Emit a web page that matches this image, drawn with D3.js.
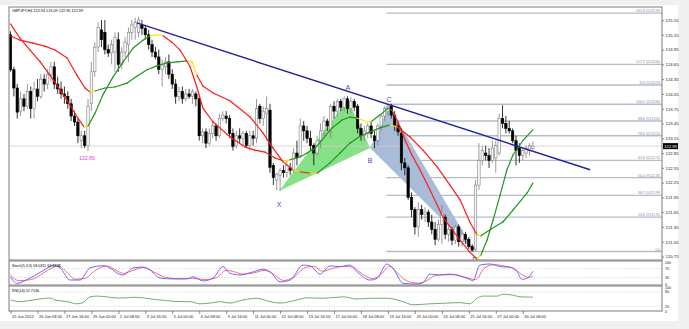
<!DOCTYPE html>
<html><head><meta charset="utf-8">
<script src="https://cdn.jsdelivr.net/npm/d3@7"></script>
<style>html,body{margin:0;padding:0;background:#f0f0f0;overflow:hidden}svg{display:block;font-family:"Liberation Sans",Arial,sans-serif}</style>
</head><body><div id="chart"></div>
<script>
// ---------- DATA ----------
const symbolTitle = "GBPJPY,H4 122.94 123.09 122.90 122.99";
const stochTitle = "Stoch(5,3,3) 58.0311 64.6738";
const rsiTitle = "RSI(14) 57.7136";
const opens = [125.25,124.54,124.17,123.70,123.95,123.80,124.10,123.75,124.15,124.00,124.35,124.25,124.45,124.60,124.25,124.15,124.05,124.00,123.85,123.60,
123.48,123.10,123.20,123.00,123.85,124.50,125.00,125.35,125.30,124.95,124.88,124.90,125.15,124.65,124.90,125.05,125.30,125.40,125.30,125.45,
125.38,125.25,125.05,124.90,124.80,124.55,124.60,124.70,124.45,124.25,124.00,124.10,123.95,124.05,124.00,124.05,123.95,123.20,123.28,123.05,
123.25,123.40,123.20,123.55,123.60,123.55,123.25,123.00,123.20,123.15,123.25,123.00,123.20,123.15,123.80,123.55,123.65,123.72,122.60,122.30,
122.40,122.50,122.45,122.55,122.50,122.85,122.80,123.40,123.30,123.15,123.00,122.85,123.10,123.30,123.50,123.30,123.80,123.70,123.90,123.78,
123.95,123.75,123.90,123.80,123.35,123.20,123.25,123.40,123.20,123.10,123.40,123.60,123.70,123.80,123.62,123.40,123.25,122.65,122.55,121.95,
121.70,121.35,121.70,121.60,121.65,121.45,121.30,121.10,121.40,121.55,121.20,121.30,121.08,121.35,121.05,121.20,121.10,120.95,120.90,122.20,
122.70,122.85,122.80,122.70,122.75,122.85,123.55,123.45,123.35,123.30,123.10,122.95,122.80,122.85,122.90,122.94];
const highs = [125.32,124.60,124.25,124.10,124.05,124.25,124.20,124.30,124.35,124.45,124.45,124.55,124.70,124.70,124.40,124.30,124.20,124.10,123.95,123.70,
123.55,123.30,123.30,123.95,124.70,125.10,125.50,125.55,125.55,125.05,125.15,125.30,125.30,125.00,125.20,125.40,125.55,125.60,125.62,125.55,
125.45,125.35,125.15,125.00,124.95,124.75,124.80,124.85,124.55,124.35,124.20,124.20,124.15,124.15,124.15,124.10,124.00,123.35,123.35,123.35,
123.50,123.45,123.65,123.70,123.70,123.62,123.35,123.30,123.35,123.30,123.30,123.30,123.30,123.95,123.85,123.80,124.00,123.85,122.65,122.45,
122.55,122.60,122.70,122.65,122.95,123.10,123.55,123.50,123.40,123.30,123.05,123.20,123.45,123.60,123.55,123.85,123.90,123.95,123.95,124.00,
124.00,123.98,123.95,123.85,123.45,123.40,123.45,123.50,123.30,123.45,123.65,123.80,123.84,123.85,123.70,123.48,123.35,122.75,122.60,122.05,
121.75,121.85,121.80,121.75,121.70,121.60,121.45,121.50,121.80,121.60,121.40,121.35,121.40,121.40,121.30,121.25,121.15,121.00,122.30,123.05,
123.00,123.00,122.95,123.10,123.10,123.65,123.82,123.60,123.50,123.35,123.20,123.05,122.95,123.00,123.05,123.09];
const lows = [124.50,124.00,123.55,123.60,123.70,123.75,123.55,123.55,123.90,123.95,124.10,124.15,124.30,124.15,124.05,123.95,123.85,123.75,123.50,123.40,
123.05,122.95,122.95,122.89,123.70,124.40,124.90,125.00,124.85,124.80,124.65,124.50,124.50,124.55,124.80,124.70,125.15,125.15,125.20,125.25,
125.15,124.95,124.80,124.75,124.45,124.20,124.45,124.35,124.15,123.85,123.90,123.85,123.90,123.95,123.85,123.80,123.10,123.05,122.95,123.00,
123.15,123.10,123.15,123.50,123.45,123.15,122.90,122.95,123.05,123.00,122.95,122.90,123.00,123.05,123.45,123.40,123.10,122.45,122.20,122.10,
122.08,122.35,122.35,122.40,122.45,122.60,122.75,123.10,123.05,122.90,122.60,122.80,122.95,123.20,123.30,123.15,123.55,123.60,123.70,123.70,
123.65,123.65,123.70,123.25,123.10,123.10,123.15,123.15,122.95,123.00,123.30,123.50,123.60,123.55,123.30,123.20,122.50,122.40,121.90,121.55,
121.20,121.15,121.50,121.45,121.35,121.20,120.98,121.05,121.00,121.10,121.05,120.98,121.00,120.95,120.95,121.00,120.90,120.85,120.85,122.10,
122.60,122.70,122.55,122.65,122.45,122.80,123.35,123.25,123.25,123.05,122.60,122.65,122.70,122.75,122.80,122.90];
const closes = [124.54,124.17,123.68,123.95,123.80,124.10,123.75,124.15,124.00,124.35,124.25,124.45,124.60,124.25,124.15,124.05,124.00,123.85,123.60,123.48,
123.20,123.20,123.00,123.80,124.50,125.00,125.40,125.15,124.95,124.88,125.05,125.20,124.65,124.90,125.10,125.30,125.45,125.50,125.55,125.38,
125.25,125.05,124.90,124.80,124.55,124.65,124.70,124.45,124.25,124.00,124.10,123.95,124.05,124.00,124.10,123.95,123.20,123.28,123.05,123.25,
123.40,123.20,123.55,123.62,123.55,123.25,122.98,123.20,123.15,123.25,123.00,123.20,123.15,123.75,123.55,123.70,123.75,122.56,122.35,122.42,
122.50,122.45,122.60,122.50,122.85,122.75,123.40,123.30,123.15,123.00,122.85,123.10,123.30,123.50,123.40,123.80,123.70,123.90,123.78,123.95,
123.75,123.90,123.78,123.35,123.20,123.30,123.40,123.25,123.10,123.40,123.60,123.75,123.80,123.62,123.40,123.28,122.65,122.55,121.95,121.70,
121.35,121.70,121.60,121.65,121.45,121.30,121.10,121.40,121.65,121.20,121.30,121.08,121.35,121.05,121.20,121.10,120.95,120.88,122.20,122.70,
122.90,122.80,122.70,122.95,123.00,123.55,123.45,123.35,123.30,123.10,122.90,122.80,122.90,122.95,123.00,122.99];

// moving averages: [bar, price, colour code r/y/g]
const fastMA = [[0,125.47,'r'],[2.8,125.18,'r'],[5.8,124.94,'r'],[8.8,124.70,'r'],[11.7,124.43,'r'],[14.7,124.13,'r'],[17.7,123.82,'r'],[20.0,123.56,'r'],[21.8,123.38,'y'],[23.0,123.40,'g'],[25.1,123.66,'g'],[27.4,124.03,'g'],[30.4,124.39,'g'],[33.4,124.70,'g'],[36.4,124.98,'g'],[39.3,125.14,'g'],[41.4,125.23,'y'],[43.5,125.25,'y'],[45.3,125.23,'r'],[47.9,125.10,'r'],[50.3,124.94,'r'],[53.3,124.60,'r'],[55.3,124.19,'r'],[57.1,123.76,'r'],[60.1,123.48,'r'],[62.8,123.32,'r'],[65.1,123.18,'r'],[69.6,122.97,'r'],[72.5,122.91,'r'],[75.5,122.87,'r'],[78.5,122.75,'r'],[81.0,122.69,'y'],[82.9,122.71,'g'],[85.9,122.77,'g'],[88.0,122.85,'g'],[90.4,122.95,'g'],[92.4,123.11,'g'],[95.4,123.36,'g'],[98.4,123.52,'g'],[100.7,123.58,'g'],[102.8,123.56,'y'],[105.8,123.48,'y'],[107.3,123.50,'g'],[109.6,123.62,'g'],[112.0,123.76,'g'],[113.2,123.72,'r'],[115.0,123.48,'r'],[117.1,123.11,'r'],[119.1,122.81,'r'],[121.5,122.51,'r'],[124.5,122.10,'r'],[128.3,121.55,'r'],[133.4,121.08,'r'],[136.3,120.84,'r'],[138.4,120.70,'y'],[139.6,120.78,'g'],[141.4,121.08,'g'],[143.2,121.49,'g'],[145.3,122.00,'g'],[147.3,122.51,'g'],[149.1,122.81,'g'],[152.1,123.11,'g'],[155.0,123.32,'g']];
const slowMA = [[0,125.23,'r'],[2.8,125.14,'r'],[6.7,125.08,'r'],[10.2,125.02,'r'],[13.2,124.94,'r'],[16.8,124.78,'r'],[19.7,124.43,'r'],[22.1,124.17,'r'],[23.6,124.09,'y'],[25.1,124.11,'g'],[28.0,124.17,'g'],[31.0,124.19,'g'],[34.6,124.27,'g'],[37.5,124.41,'g'],[40.5,124.54,'g'],[43.5,124.62,'g'],[46.4,124.68,'g'],[49.4,124.70,'g'],[52.4,124.72,'y'],[53.9,124.70,'y'],[55.3,124.43,'r'],[57.1,124.21,'r'],[60.1,124.07,'r'],[65.1,123.91,'r'],[71.1,123.58,'r'],[74.9,123.26,'r'],[77.9,122.95,'r'],[80.9,122.67,'r'],[83.8,122.51,'y'],[85.9,122.47,'r'],[88.9,122.44,'y'],[91.0,122.44,'g'],[94.8,122.65,'g'],[97.8,122.85,'g'],[100.7,123.05,'g'],[103.7,123.19,'g'],[106.7,123.28,'g'],[109.6,123.36,'g'],[112.6,123.42,'y'],[114.7,123.38,'r'],[118.5,123.18,'r'],[122.4,122.91,'r'],[126.6,122.57,'r'],[130.4,122.20,'r'],[133.4,121.90,'r'],[136.3,121.45,'r'],[138.4,121.19,'y'],[139.6,121.17,'g'],[142.6,121.31,'g'],[146.1,121.45,'g'],[149.1,121.69,'g'],[153.3,122.04,'g'],[155.0,122.24,'g']];

const stochMain = [[0,33],[1.9,3],[5.8,27],[11.7,79],[12.6,86],[14.7,73],[17.7,18],[20.6,18],[23.6,73],[27.4,83],[29.5,73],[31.6,50],[33.4,41],[36.4,73],[39.3,77],[41.4,64],[44.4,27],[48.2,23],[52.4,23],[54.2,33],[57.1,14],[60.1,27],[63.1,79],[65.1,49],[68.1,41],[71.1,51],[74.9,67],[77.0,56],[80.0,10],[83.0,18],[86.8,86],[88.9,82],[91.9,45],[94.8,82],[97.8,79],[100.7,86],[102.8,56],[106.7,18],[108.8,26],[111.7,91],[113.5,71],[116.5,3],[120.6,0],[122.4,6],[124.5,45],[127.4,41],[130.4,45],[133.4,36],[136.3,21],[137.2,14],[139.3,86],[142.3,91],[145.3,79],[148.2,76],[150.3,56],[151.8,21],[153.3,26],[155.0,58]];
const stochSignal = [[0,40],[2.5,15],[6,20],[12,70],[14,82],[17,50],[19,22],[22,25],[25,60],[28.5,82],[31,65],[33.5,48],[36,60],[39.5,75],[42.5,55],[46,30],[50,24],[54,26],[57.5,20],[61,28],[64,62],[66.5,55],[69,45],[72,50],[75.5,62],[78,45],[81,16],[84,30],[87.5,75],[90,80],[92.5,58],[95.5,70],[98.5,80],[101.5,78],[104,50],[107.5,24],[110,45],[112.5,82],[114.5,55],[117.5,15],[121,4],[123.5,15],[126,38],[129,42],[132,42],[135,30],[138,20],[140.5,70],[143.5,88],[146.5,82],[149.5,70],[152,40],[154,30],[155,36]];
const rsiLine = [[0,46],[2.8,39],[6.7,46],[11.7,54],[13.2,46],[16.8,39],[19.7,30],[21.5,35],[23.6,59],[25.7,62],[28.6,59],[31.6,54],[34.6,55],[36.4,57],[39.3,55],[42.3,49],[46.4,43],[50.3,39],[53.3,39],[56.2,30],[59.2,33],[62.2,39],[65.1,33],[69.0,46],[73.1,53],[77.0,39],[80.0,33],[85.0,46],[88.0,55],[92.7,53],[98.7,59],[102.8,50],[106.7,53],[111.7,53],[116.5,39],[119.4,26],[124.5,30],[129.5,33],[133.4,35],[136.3,30],[138.4,53],[140.2,62],[144.4,62],[146.1,70],[149.1,66],[151.2,59],[155.0,57.7]];

const yTicks = [125.55,125.25,124.95,124.65,124.35,124.05,123.75,123.45,123.15,122.85,122.55,122.25,121.95,121.65,121.35,121.05,120.75];
const xTickBars = [0,8,16,24,32,40,48,56,64,72,80,88,96,104,112,120,128,136,144,152];
const xLabels = ["25 Jun 2012","26 Jun 08:00","27 Jun 16:00","29 Jun 00:00","2 Jul 08:00","3 Jul 16:00","5 Jul 00:00","6 Jul 08:00","9 Jul 16:00","11 Jul 00:00","12 Jul 08:00","13 Jul 16:00","17 Jul 00:00","18 Jul 08:00","19 Jul 16:00","23 Jul 00:00","24 Jul 08:00","25 Jul 16:00","27 Jul 00:00","30 Jul 08:00"];
const fibLevels = ["161.8","127.2","113","100.0","88.6","78.6","61.8","50.0","38.2","23.6","0.0"];
const fibPrices = [125.69,124.65,124.23,123.84,123.50,123.20,122.70,122.35,121.99,121.55,120.85];
const fibStartBar = 111.5;
const trendBars = [37.5,172], trendPrices = [125.49,122.51];
const patternNames = ["X","A","B","C","D"];
const patternBars = [79.7,100.1,106.7,112.3,137.8];
const patternPrices = [122.08,123.93,122.95,123.80,120.84];
const lowMarkBar = 23, lowMarkPrice = 122.89;
const stochLevels = [70,30], stochTicks = [100,70,30,0];
const rsiLevels = [80,20], rsiTicks = [100,80,20,0];

// ---------- LAYOUT ----------
const W=689,H=329, L=9, R=662;
const mainTop=7, mainBot=260, stTop=261, stBot=285, rsTop=286, rsBot=311;
const svg=d3.select("#chart").append("svg").attr("width",W).attr("height",H);
svg.append("rect").attr("width",W).attr("height",H).attr("fill","#f0f0f0");
svg.append("rect").attr("x",0).attr("y",5).attr("width",678).attr("height",316).attr("fill","#fff");

const x=d3.scaleLinear().domain([0,155]).range([10.5,532.85]);
const y=d3.scaleLinear().domain([120.75,125.55]).range([256.5,20]);
const yS=d3.scaleLinear().domain([0,100]).range([284,262]);
const yR=d3.scaleLinear().domain([0,100]).range([311,287]);

const defs=svg.append("defs");
[["cm",mainTop,mainBot],["cs",stTop,stBot],["cr",rsTop,rsBot]].forEach(([id,t,b])=>{
  defs.append("clipPath").attr("id",id).append("rect").attr("x",L).attr("y",t).attr("width",R-L).attr("height",b-t);
});

// ---------- MAIN PANEL ----------
const gm=svg.append("g").attr("clip-path","url(#cm)");
const P=k=>[x(patternBars[k]),y(patternPrices[k])];
gm.append("polygon").attr("points",[P(0),P(1),P(2)].map(p=>p.join(",")).join(" ")).attr("fill","#86e086");
gm.append("polygon").attr("points",[P(2),P(3),P(4)].map(p=>p.join(",")).join(" ")).attr("fill","#a8bcda");

// fib lines
fibPrices.forEach((p,k)=>{
  gm.append("line").attr("x1",x(fibStartBar)).attr("x2",R).attr("y1",y(p)).attr("y2",y(p))
    .attr("stroke","#b2bdcc").attr("stroke-width",1.4);
  gm.append("text").attr("x",R-2).attr("y",y(p)-1).attr("text-anchor","end")
    .attr("font-size",3.5).attr("fill","#7c8898")
    .text(k===fibLevels.length-1?fibLevels[k]:fibLevels[k]+" @"+p.toFixed(2));
});
// current price line
const last=closes[closes.length-1];
gm.append("line").attr("x1",L).attr("x2",R).attr("y1",y(last)).attr("y2",y(last)).attr("stroke","#dccaca").attr("stroke-width",0.8);

// candles
const bars=d3.range(opens.length).map(i=>({i,o:opens[i],h:highs[i],l:lows[i],c:closes[i]}));
gm.selectAll(".wk").data(bars).join("line").attr("x1",d=>x(d.i)).attr("x2",d=>x(d.i))
  .attr("y1",d=>y(d.h)).attr("y2",d=>y(d.l)).attr("stroke",d=>d.c>=d.o?"#808080":"#000").attr("stroke-width",0.8);
gm.selectAll(".bd").data(bars).join("rect").attr("x",d=>x(d.i)-1.2).attr("width",2.4)
  .attr("y",d=>y(Math.max(d.o,d.c))).attr("height",d=>Math.max(0.7,Math.abs(y(d.o)-y(d.c))))
  .attr("fill",d=>d.c>=d.o?"#fafafa":"#000").attr("stroke",d=>d.c>=d.o?"#808080":"#000").attr("stroke-width",0.6);

// moving averages
const maCol={r:"#ff1a1a",y:"#ffe000",g:"#1e961e"};
function drawMA(arr){
  for(let k=0;k<arr.length-1;k++){
    gm.append("line").attr("x1",x(arr[k][0])).attr("y1",y(arr[k][1])).attr("x2",x(arr[k+1][0])).attr("y2",y(arr[k+1][1]))
      .attr("stroke",maCol[arr[k][2]]).attr("stroke-width",1.2).attr("stroke-linecap","round");
  }
}
drawMA(slowMA); drawMA(fastMA);

// trend line
gm.append("line").attr("x1",x(trendBars[0])).attr("y1",y(trendPrices[0])).attr("x2",x(trendBars[1])).attr("y2",y(trendPrices[1]))
  .attr("stroke","#22229c").attr("stroke-width",1.4);

// pattern labels
const lblOff=[14,-12,12,-7,7];
patternNames.forEach((n,k)=>{
  gm.append("text").attr("x",x(patternBars[k])).attr("y",y(patternPrices[k])+lblOff[k]+2.5).attr("text-anchor","middle")
    .attr("font-size",7).attr("fill","#4848b0").text(n);
});
gm.append("text").attr("x",x(lowMarkBar)-1).attr("y",y(lowMarkPrice)+9).attr("text-anchor","middle")
  .attr("font-size",5.2).attr("fill","#f03cf0").text(lowMarkPrice.toFixed(2));
svg.append("text").attr("x",12).attr("y",12).attr("font-size",3.8).attr("fill","#000").text(symbolTitle);

// ---------- STOCH PANEL ----------
const gs=svg.append("g").attr("clip-path","url(#cs)");
stochLevels.forEach(v=>gs.append("line").attr("x1",L).attr("x2",R).attr("y1",yS(v)).attr("y2",yS(v)).attr("stroke","#bbb").attr("stroke-width",0.6).attr("stroke-dasharray","1,1.5"));
const ls=d3.line().x(d=>x(d[0])).y(d=>yS(d[1])).curve(d3.curveMonotoneX);
gs.append("path").attr("d",ls(stochSignal)).attr("fill","none").attr("stroke","#ff5a5a").attr("stroke-width",0.9);
gs.append("path").attr("d",ls(stochMain)).attr("fill","none").attr("stroke","#5a5aff").attr("stroke-width",0.9);
svg.append("text").attr("x",12).attr("y",267).attr("font-size",3.7).attr("fill","#000").text(stochTitle);

// ---------- RSI PANEL ----------
const gr=svg.append("g").attr("clip-path","url(#cr)");
rsiLevels.forEach(v=>gr.append("line").attr("x1",L).attr("x2",R).attr("y1",yR(v)).attr("y2",yR(v)).attr("stroke","#bbb").attr("stroke-width",0.6).attr("stroke-dasharray","1,1.5"));
const lr=d3.line().x(d=>x(d[0])).y(d=>yR(d[1])).curve(d3.curveMonotoneX);
gr.append("path").attr("d",lr(rsiLine)).attr("fill","none").attr("stroke","#4c9a4c").attr("stroke-width",0.8);
svg.append("text").attr("x",12).attr("y",292).attr("font-size",3.7).attr("fill","#000").text(rsiTitle);

// ---------- FRAMES ----------
[[mainTop,mainBot],[stTop,stBot],[rsTop,rsBot]].forEach(([t,b])=>{
  svg.append("rect").attr("x",L).attr("y",t).attr("width",R-L).attr("height",b-t).attr("fill","none").attr("stroke","#7a7a7a").attr("stroke-width",1);
});

// ---------- AXES ----------
function styleAxis(g,fs){
  g.select(".domain").remove();
  g.selectAll("line").attr("stroke","#444").attr("stroke-width",0.6);
  g.selectAll("text").attr("font-size",fs).attr("fill","#222").attr("font-family","Liberation Sans, Arial, sans-serif");
}
const ay=svg.append("g").attr("transform",`translate(${R},0)`).call(d3.axisRight(y).tickValues(yTicks).tickSize(2).tickPadding(1.5).tickFormat(d3.format(".2f")));
styleAxis(ay,4.3);
const as=svg.append("g").attr("transform",`translate(${R},0)`).call(d3.axisRight(yS).tickValues(stochTicks).tickSize(0).tickPadding(3));
styleAxis(as,3.6);
const ar=svg.append("g").attr("transform",`translate(${R},0)`).call(d3.axisRight(yR).tickValues(rsiTicks).tickSize(0).tickPadding(3));
styleAxis(ar,3.6);
const ax=svg.append("g").attr("transform",`translate(0,${rsBot})`).call(d3.axisBottom(x).tickValues(xTickBars).tickSize(3).tickPadding(1).tickFormat((d,k)=>xLabels[k]));
styleAxis(ax,4);
ax.selectAll("text").attr("text-anchor","start").attr("x",1);

// current price box
svg.append("rect").attr("x",R+1).attr("y",y(last)-3).attr("width",15).attr("height",6).attr("fill","#000");
svg.append("text").attr("x",R+2).attr("y",y(last)+1.6).attr("font-size",4.2).attr("fill","#fff").text(last.toFixed(2));
</script></body></html>
